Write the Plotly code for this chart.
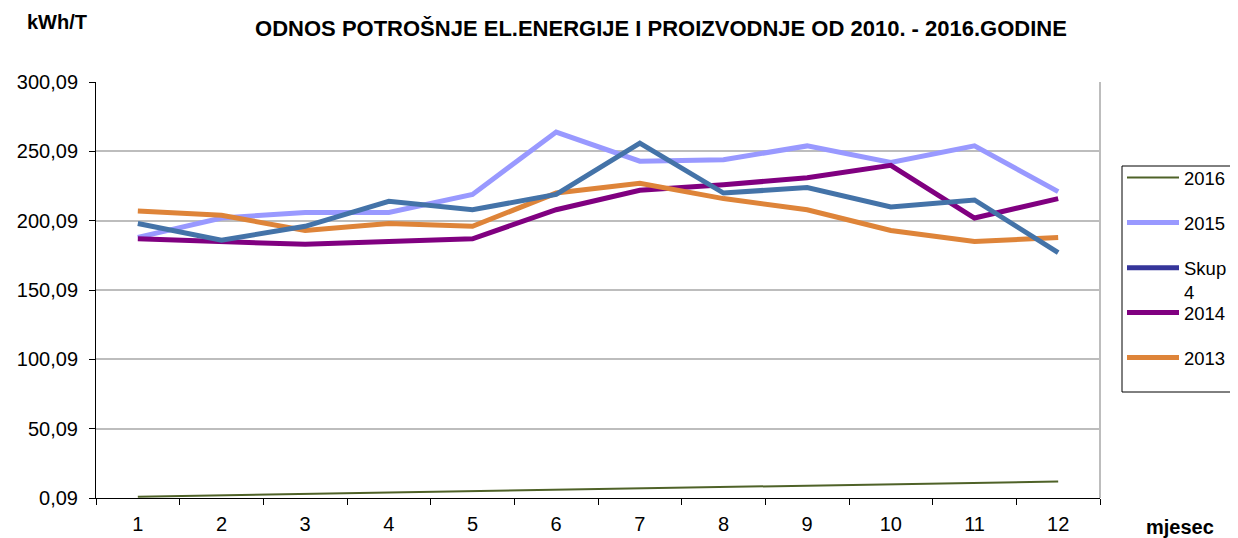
import plotly.graph_objects as go

months = ["1", "2", "3", "4", "5", "6", "7", "8", "9", "10", "11", "12"]
y2016 = [1, 2, 3, 4, 5, 6, 7, 8, 9, 10, 11, 12]
y2015 = [188, 202, 206, 206, 219, 264, 243, 244, 254, 242, 254, 221]
skup4 = [198, 186, 196, 214, 208, 219, 256, 220, 224, 210, 215, 177]
y2014 = [187, 185, 183, 185, 187, 208, 222, 226, 231, 240, 202, 216]
y2013 = [207, 204, 193, 198, 196, 220, 227, 216, 208, 193, 185, 188]
ytick_vals = [0.09, 50.09, 100.09, 150.09, 200.09, 250.09, 300.09]

title_text = "ODNOS POTROŠNJE EL.ENERGIJE I PROIZVODNJE OD 2010. - 2016.GODINE"

# figure is 8px smaller than the window because the page body has an 8px margin
OFF = 8
W, H = 1238 - OFF, 538 - OFF
L, R, T, B = 96 - OFF, 138, 82 - OFF, 40
PW, PH = W - L - R, H - T - B


def px(xp):  # page x -> paper x
    return (xp - OFF - L) / PW


def py(yp):  # page y -> paper y
    return (H - B - (yp - OFF)) / PH


fig = go.Figure()
fig.add_trace(go.Scatter(x=months, y=y2016, mode="lines", name="2016", legendgroup="a",
                         line=dict(color="#4F6228", width=2), legend="legend"))
fig.add_trace(go.Scatter(x=months, y=y2015, mode="lines", name="2015", legendgroup="b",
                         line=dict(color="#9999FF", width=5), legend="legend"))
fig.add_trace(go.Scatter(x=months, y=y2014, mode="lines", name="2014", legendgroup="d",
                         line=dict(color="#800080", width=5), legend="legend2"))
fig.add_trace(go.Scatter(x=months, y=y2013, mode="lines", name="2013", legendgroup="e",
                         line=dict(color="#DE8439", width=5), legend="legend2"))
fig.add_trace(go.Scatter(x=months, y=skup4, mode="lines", name="Skup<br>4", legendgroup="c",
                         line=dict(color="#4473A8", width=5), showlegend=False))
# legend entry for Skup 4 (swatch in darker blue as in the reference)
fig.add_trace(go.Scatter(x=[None], y=[None], mode="lines", name="Skup<br>4", legendgroup="c",
                         line=dict(color="#35359A", width=5), legend="legend"))

leg_common = dict(xanchor="left", yanchor="top", borderwidth=0,
                  bgcolor="rgba(0,0,0,0)", font=dict(size=18.5), tracegroupgap=18,
                  traceorder="grouped", itemwidth=52, valign="top")

fig.update_layout(
    width=W, height=H,
    margin=dict(l=L, r=R, t=T, b=B, autoexpand=False),
    paper_bgcolor="white", plot_bgcolor="white",
    separators=", ",
    font=dict(family="Liberation Sans, Arial, sans-serif", size=20, color="black"),
    title=dict(text="<b>" + title_text + "</b>", xref="container", yref="container",
               x=(661 - OFF) / W, y=1 - (28 - OFF) / H, xanchor="center", yanchor="middle",
               font=dict(family="Liberation Sans, Arial, sans-serif", size=22, color="black")),
    showlegend=True,
    legend=dict(x=px(1122), y=py(159), **leg_common),
    legend2=dict(x=px(1122), y=py(294), **leg_common),
    xaxis=dict(type="category", tickson="boundaries", ticks="outside", ticklen=6,
               tickcolor="black", showline=True, linecolor="black", linewidth=1,
               showgrid=False, range=[-0.5, 11.5], tickfont=dict(size=20),
               ticklabelstandoff=8),
    yaxis=dict(range=[0.09, 300.09], tickvals=ytick_vals, tickformat=".2f",
               ticks="outside", ticklen=6, tickcolor="black", showline=True,
               linecolor="black", linewidth=1, showgrid=True, gridcolor="#BDBDBD",
               gridwidth=1.5, zeroline=False, tickfont=dict(size=20),
               ticklabelstandoff=7),
    annotations=[
        dict(text="<b>kWh/T</b>", xref="paper", yref="paper", x=px(57),
             y=py(22), xanchor="center", yanchor="middle", showarrow=False,
             font=dict(size=20)),
        dict(text="<b>mjesec</b>", xref="paper", yref="paper", x=px(1180),
             y=py(527), xanchor="center", yanchor="middle", showarrow=False,
             font=dict(size=20)),
    ],
    shapes=[
        dict(type="line", xref="paper", yref="paper", x0=1, x1=1, y0=0, y1=1,
             line=dict(color="#BDBDBD", width=2)),
        dict(type="rect", xref="paper", yref="paper", x0=px(1122), x1=px(1300),
             y0=py(392), y1=py(166), line=dict(color="black", width=1),
             fillcolor="rgba(0,0,0,0)", layer="below"),
    ],
)

fig.write_html("out.html")
